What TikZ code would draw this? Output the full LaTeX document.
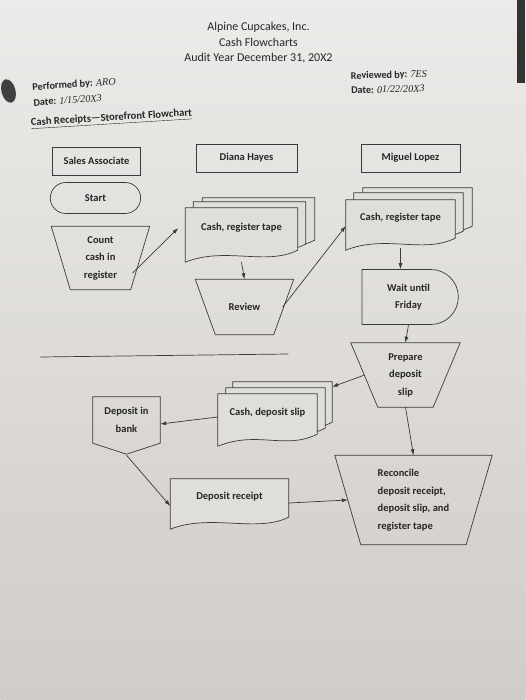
\documentclass[tikz,border=0pt]{standalone}
\usepackage{fontspec}
\setmainfont{Carlito}
\newfontfamily\handfont{Liberation Serif}
\usepackage{xcolor}
\usetikzlibrary{arrows.meta,shapes.geometric,shapes.misc}
\definecolor{papertop}{RGB}{236,235,233}
\definecolor{paperbot}{RGB}{208,204,199}
\definecolor{paper}{RGB}{224,222,218}
\definecolor{ink}{RGB}{58,58,58}
\pgfdeclarelayer{bg}
\pgfdeclarelayer{sheets}
\pgfsetlayers{bg,sheets,main}

% one page of a document symbol, shifted by (#2,#3)
\newcommand{\docsheet}[3]{%
  \begin{pgfonlayer}{sheets}
  \draw[draw=ink,line width=0.7pt,fill=paper]
    ([shift={(#2,#3)}]#1.north west) -- ([shift={(#2,#3)}]#1.north east)
    -- ([shift={(#2,#3-2)}]#1.south east)
    .. controls ([shift={(#2-32,#3-18)}]#1.south east) and ([shift={(#2+40,#3+2)}]#1.south west)
    .. ([shift={(#2,#3-14)}]#1.south west) -- cycle;
  \end{pgfonlayer}}
\newcommand{\manualop}[2]{%
  \draw[line] (#1.north west) -- (#1.north east) -- ([xshift=-#2]#1.south east)
    -- ([xshift=#2]#1.south west) -- cycle;}
\newcommand{\offpage}[2]{%
  \draw[line] (#1.north west) -- (#1.north east) -- (#1.south east)
    -- ([yshift=-#2]#1.south) -- (#1.south west) -- cycle;}

\begin{document}
\begin{tikzpicture}[x=1pt,y=1pt,
  line/.style={draw=ink,line width=0.7pt},
  lbl/.style={font=\fontsize{10.5}{17.5}\selectfont\bfseries,align=center,text=black!85},
  box/.style={lbl,line,rectangle,minimum height=28pt},
  term/.style={lbl,line,rounded rectangle,minimum width=97pt,minimum height=31pt},
  delay/.style={lbl,line,rounded rectangle,rounded rectangle left arc=none,
              minimum width=103pt,minimum height=55pt},
  op/.style={lbl,rectangle},
  doc/.style={lbl,rectangle},
  flow/.style={-{Latex[length=6pt,width=4pt]},draw=ink,line width=0.7pt}
]
\begin{pgfonlayer}{bg}
\shade[top color=papertop,bottom color=paperbot] (0,0) rectangle (525,-700);
\fill[black!80] (517,0) rectangle (525,-83);
\fill[black!75,rotate around={15:(8,-91)}] (8,-91) ellipse (7 and 12);
\end{pgfonlayer}

\node[font=\fontsize{12}{15.5}\selectfont,align=center,text=black!85] (title) at (258,-43)
  {Alpine Cupcakes, Inc.\\Cash Flowcharts\\Audit Year December 31, 20X2};
\node[anchor=west,rotate=4,align=left,font=\fontsize{10.2}{15.5}\selectfont\bfseries,text=black!85]
  (performed) at (29,-95) {Performed by: {\handfont\mdseries\itshape ARO}\\
  Date: {\handfont\mdseries\itshape 1/15/20X3}};
\node[anchor=west,rotate=1.5,align=left,font=\fontsize{10.2}{14.5}\selectfont\bfseries,text=black!85]
  (reviewed) at (347,-83) {Reviewed by: {\handfont\mdseries\itshape 7ES}\\
  Date: {\handfont\mdseries\itshape 01/22/20X3}};
\node[anchor=west,rotate=3.5,font=\fontsize{10.6}{12}\selectfont\bfseries,text=black!85]
  (section) at (27,-124) {\underline{Cash Receipts---Storefront Flowchart}};
\draw[line] (40,-357) -- (288,-354);

\node[box,minimum width=88pt] (sales) at (96,-161) {Sales Associate};
\node[box,minimum width=101pt] (diana) at (246,-158) {Diana Hayes};
\node[box,minimum width=99pt] (miguel) at (410,-158) {Miguel Lopez};

\node[term] (start) at (95,-198) {Start};
\node[op,minimum width=98pt,minimum height=63pt] (count) at (100,-258) {Count\\cash in\\register};
\manualop{count}{19pt}

\node[doc,minimum width=112pt,minimum height=40pt] (tapeD) at (241,-228) {Cash, register tape};
\docsheet{tapeD}{17}{10}
\docsheet{tapeD}{8}{6}
\docsheet{tapeD}{0}{0}
\node[op,minimum width=98pt,minimum height=55pt] (review) at (244,-307) {Review};
\manualop{review}{20pt}

\node[doc,minimum width=109pt,minimum height=36pt] (tapeM) at (400,-218) {Cash, register tape};
\docsheet{tapeM}{17}{12}
\docsheet{tapeM}{8}{7}
\docsheet{tapeM}{0}{0}
\node[delay] (wait) at (408,-297) {Wait until\\Friday};
\node[op,minimum width=109pt,minimum height=64pt] (prepare) at (405,-375) {Prepare\\deposit\\slip};
\manualop{prepare}{27pt}

\node[doc,minimum width=99pt,minimum height=38pt] (slip) at (267,-413) {Cash, deposit slip};
\docsheet{slip}{15}{12}
\docsheet{slip}{8}{6}
\docsheet{slip}{0}{0}
\node[op,minimum width=67pt,minimum height=46pt] (bank) at (126,-420) {Deposit in\\bank};
\offpage{bank}{11pt}

\node[doc,minimum width=118pt,minimum height=36pt] (receipt) at (229,-497) {Deposit receipt};
\docsheet{receipt}{0}{0}
\node[op,align=left,minimum width=157pt,minimum height=89pt] (reconcile) at (413,-500)
  {Reconcile\\deposit receipt,\\deposit slip, and\\register tape};
\manualop{reconcile}{26pt}

\draw[flow] ([xshift=-17pt,yshift=-15pt]count.east) -- ([xshift=-7pt]tapeD.west);
\draw[flow] ([yshift=-14pt]tapeD.south) -- (review.north);
\draw[flow] ([xshift=-11pt]review.east) -- ([yshift=-8pt]tapeM.west);
\draw[flow] ([yshift=-12pt]tapeM.south) -- (tapeM.south |- wait.north);
\draw[flow] (wait.south) -- (prepare.north);
\draw[flow] ([xshift=14pt]prepare.west) -- ([shift={(15pt,7pt)}]slip.north east);
\draw[flow] ([yshift=-4pt]slip.west) -- ([yshift=-4pt]bank.east);
\draw[flow] ([yshift=-12pt]bank.south) -- ([yshift=-9pt]receipt.west);
\draw[flow] ([yshift=-6pt]receipt.east) -- ([xshift=13pt]reconcile.west);
\draw[flow] (prepare.south) -- (reconcile.north);
\end{tikzpicture}
\end{document}
